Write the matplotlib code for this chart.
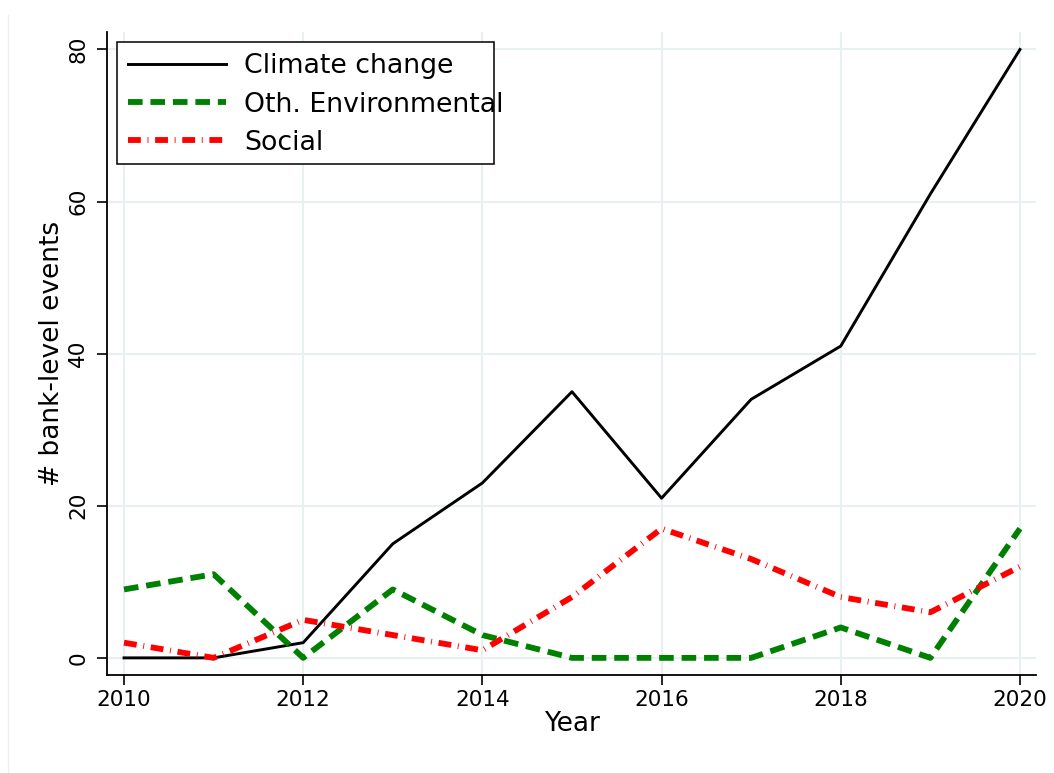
import matplotlib
matplotlib.use("Agg")
import matplotlib.pyplot as plt
from matplotlib.lines import Line2D
from matplotlib.patches import Rectangle

# data
years = [2010, 2011, 2012, 2013, 2014, 2015, 2016, 2017, 2018, 2019, 2020]
climate = [0, 0, 2, 15, 23, 35, 21, 34, 41, 61, 80]
oth_env = [9, 11, 0, 9, 3, 0, 0, 0, 4, 0, 17]
social = [2, 0, 5, 3, 1, 8, 17, 13, 8, 6, 12]
xticks = [2010, 2012, 2014, 2016, 2018, 2020]
yticks = [0, 20, 40, 60, 80]

plt.rcParams['font.family'] = ['DejaVu Sans']

fig = plt.figure(figsize=(10.54, 7.73), dpi=100)
ax = fig.add_axes([0.1015, 0.1268, 0.8815, 0.8318])

grid_col = '#e8f0f2'
for x in xticks:
    ax.axvline(x, color=grid_col, lw=1.5, zorder=0)
for y in yticks:
    ax.axhline(y, color=grid_col, lw=1.5, zorder=0)

ax.plot(years, climate, color='black', lw=2.1, label='Climate change', zorder=3)
ax.plot(years, oth_env, color='#008000', lw=4.2, dashes=(2.5, 1.35),
        label='Oth. Environmental', zorder=3)
ax.plot(years, social, color='#ff0000', lw=4.2, dashes=(2.2, 1.15, 0.15, 1.15),
        label='Social', zorder=3)

ax.set_xlim(2009.81, 2020.18)
ax.set_ylim(-2.25, 82.3)
ax.set_xticks(xticks)
ax.set_yticks(yticks)
ax.set_yticklabels([str(v) for v in yticks], rotation=90, va='center')
ax.tick_params(axis='both', labelsize=15.5, length=7.5, width=1.2, direction='out')
ax.tick_params(axis='x', pad=3)
ax.tick_params(axis='y', pad=6)
ax.spines['top'].set_visible(False)
ax.spines['right'].set_visible(False)
ax.spines['left'].set_linewidth(1.3)
ax.spines['bottom'].set_linewidth(1.3)

ax.set_xlabel('Year', fontsize=19, labelpad=1)
ax.set_ylabel('# bank-level events', fontsize=19, labelpad=2)

# legend entries without frame, box drawn separately (text runs past the box like the original)
leg = ax.legend(loc='upper left', bbox_to_anchor=(0.0226, 0.9666), fontsize=19.3,
                frameon=False, handlelength=3.65, borderpad=0, labelspacing=0.45,
                handletextpad=0.67, borderaxespad=0)
leg.set_zorder(6)
ax.add_patch(Rectangle((0.0108, 0.7947), 0.4058, 0.1897, transform=ax.transAxes,
                       facecolor='white', edgecolor='black', lw=1.1, zorder=5))

# faint page edge on the left
fig.add_artist(Line2D([0.0076, 0.0076], [0.0, 0.98], color='#eeeeee', lw=1))

fig.savefig('out.png', dpi=100)
